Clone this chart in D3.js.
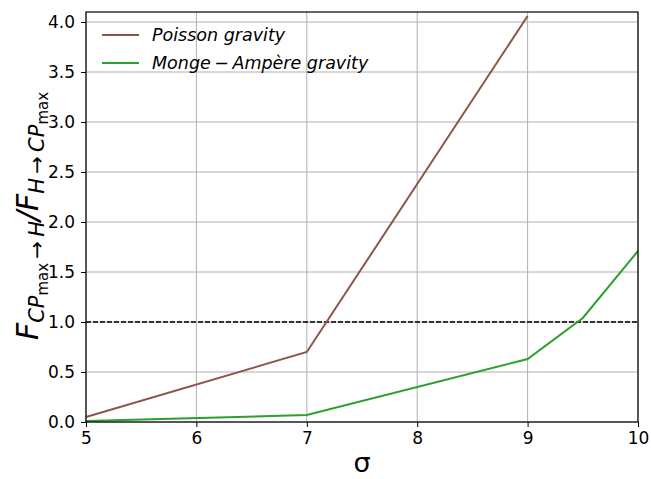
<!DOCTYPE html>
<html>
<head>
<meta charset="utf-8">
<script src="https://cdn.jsdelivr.net/npm/d3@7"></script>
<style>
  body { margin: 0; background: #fff; }
  svg text { font-family: "DejaVu Sans", sans-serif; }
</style>
</head>
<body>
<svg id="chart" width="651" height="479"></svg>
<script>
// sigma values and force ratios for each gravity model
const poissonSigma = [5, 7, 9];
const poissonRatio = [0.05, 0.70, 4.06];
const mongeSigma = [5, 7, 9, 9.5, 10];
const mongeRatio = [0.01, 0.07, 0.63, 1.04, 1.71];
const xTicks = [5, 6, 7, 8, 9, 10];
const yTicks = [0, 0.5, 1.0, 1.5, 2.0, 2.5, 3.0, 3.5, 4.0];
const seriesNames = ["Poisson gravity", "Monge\u2009\u2212\u2009Ampère gravity"];
const threshold = 1.0;

const svg = d3.select("#chart");
const plot = { left: 86, right: 638, top: 12, bottom: 422 };

const x = d3.scaleLinear().domain([5, 10]).range([plot.left, plot.right]);
const y = d3.scaleLinear().domain([0, 4.1]).range([plot.bottom, plot.top]);

// grid
svg.append("g").selectAll("line").data(xTicks).join("line")
  .attr("x1", d => x(d)).attr("x2", d => x(d))
  .attr("y1", plot.top).attr("y2", plot.bottom)
  .attr("stroke", "#b0b0b0").attr("stroke-width", 1);
svg.append("g").selectAll("line").data(yTicks).join("line")
  .attr("x1", plot.left).attr("x2", plot.right)
  .attr("y1", d => y(d)).attr("y2", d => y(d))
  .attr("stroke", "#b0b0b0").attr("stroke-width", 1);

// horizontal reference at ratio = 1
svg.append("line")
  .attr("x1", plot.left).attr("x2", plot.right)
  .attr("y1", y(threshold)).attr("y2", y(threshold))
  .attr("stroke", "#000").attr("stroke-width", 1.3)
  .attr("stroke-dasharray", "5,2");

const line = d3.line().x(d => x(d[0])).y(d => y(d[1]));
const series = [
  { pts: d3.zip(poissonSigma, poissonRatio), color: "#8c564b" },
  { pts: d3.zip(mongeSigma, mongeRatio), color: "#2ca02c" }
];
series.forEach(s => {
  svg.append("path").datum(s.pts)
    .attr("d", line).attr("fill", "none")
    .attr("stroke", s.color).attr("stroke-width", 2);
});

// axes
const xAxis = svg.append("g").attr("transform", `translate(0,${plot.bottom})`)
  .call(d3.axisBottom(x).tickValues(xTicks).tickFormat(d3.format("d")).tickSizeOuter(0).tickSize(5).tickPadding(5));
const yAxis = svg.append("g").attr("transform", `translate(${plot.left},0)`)
  .call(d3.axisLeft(y).tickValues(yTicks).tickFormat(d3.format(".1f")).tickSizeOuter(0).tickSize(5).tickPadding(6));
[xAxis, yAxis].forEach(g => {
  g.selectAll("text").attr("font-size", 17).attr("fill", "#000")
    .attr("font-family", "DejaVu Sans, sans-serif");
  g.selectAll("line").attr("stroke", "#000").attr("stroke-width", 1);
  g.select(".domain").remove();
});

// frame
svg.append("rect")
  .attr("x", plot.left).attr("y", plot.top)
  .attr("width", plot.right - plot.left).attr("height", plot.bottom - plot.top)
  .attr("fill", "none").attr("stroke", "#000").attr("stroke-width", 1.2);

// x label
svg.append("text").attr("x", (plot.left + plot.right) / 2).attr("y", 472)
  .attr("text-anchor", "middle").attr("font-size", 27).text("σ");

// y label: F_{CP_max -> H} / F_{H -> CP_max}
const yl = svg.append("text")
  .attr("transform", "translate(38,216) rotate(-90)")
  .attr("text-anchor", "middle").attr("font-size", 30);
const part = (txt, size, shift, italic) => {
  const t = yl.append("tspan").attr("font-size", size).text(txt);
  if (shift) t.attr("dy", shift);
  if (italic) t.attr("font-style", "italic");
  return t;
};
part("F", 30, 0, true);
part("CP", 21, 6, true);
part("max", 15, 4, false);
part("\u2009\u2192\u2009", 21, -4, false);
part("H", 21, 0, true);
part("/F", 30, -6, true);
part("H", 21, 6, true);
part("\u2009\u2192\u2009", 21, 0, false);
part("CP", 21, 0, true);
part("max", 15, 4, false);

// legend
const legend = svg.append("g");
series.forEach((s, i) => {
  const ly = 35 + i * 28;
  legend.append("line").attr("x1", 102).attr("x2", 139)
    .attr("y1", ly).attr("y2", ly)
    .attr("stroke", s.color).attr("stroke-width", 2);
  legend.append("text").attr("x", 152).attr("y", ly + 6)
    .attr("font-size", 17.5).attr("font-style", "italic")
    .text(seriesNames[i]);
});
</script>
</body>
</html>
